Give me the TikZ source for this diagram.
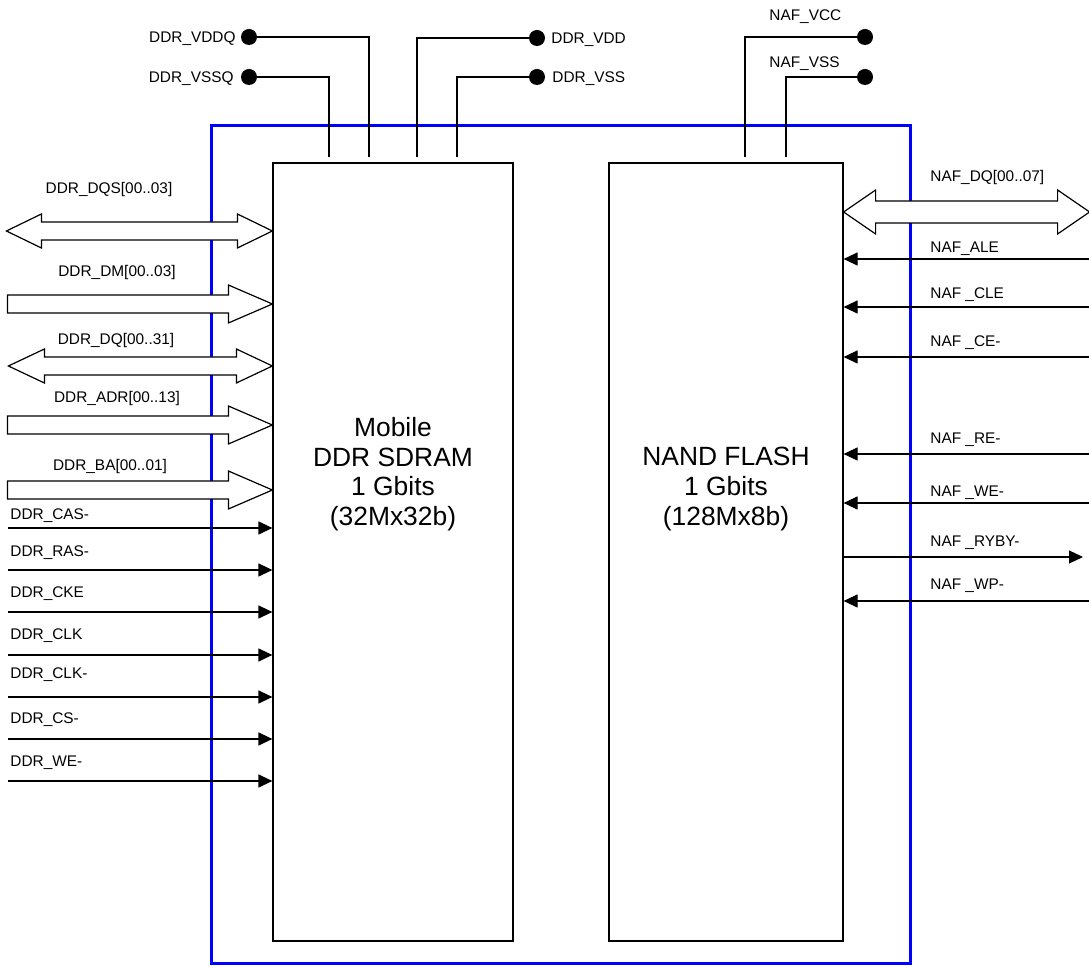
\documentclass[tikz,border=0pt]{standalone}
\usepackage{fontspec}
\setmainfont{Liberation Sans}
\usetikzlibrary{arrows.meta}

% wide bus arrow into a chip: tip, length
\newcommand{\busin}[2]{%
  \draw[bus, shift={(#1)}] (0,0) -- (-44,19) -- (-44,9) -- (-#2,9) -- (-#2,-9) -- (-44,-9) -- (-44,-19) -- cycle;}
% bidirectional bus: tip, length, head length, half head, half shaft
\newcommand{\busio}[6][]{%
  \draw[bus, shift={(#2)}, #1] (0,0) -- (-#4,#5) -- (-#4,#6) -- (-#3+#4,#6) -- (-#3+#4,#5) -- (-#3,0)
    -- (-#3+#4,-#5) -- (-#3+#4,-#6) -- (-#4,-#6) -- (-#4,-#5) -- cycle;}

\begin{document}
\begin{tikzpicture}[x=0.5pt, y=-0.5pt, >={Triangle[length=7pt,width=6.5pt]},
    chip/.style={draw, line width=0.6pt, minimum height=389pt, inner sep=0pt},
    chiptxt/.style={font={\fontsize{13.2}{14.8}\selectfont}, align=center, inner sep=0pt},
    lbl/.style={font={\fontsize{7.7}{9}\selectfont}, inner sep=0pt},
    sig/.style={line width=0.6pt},
    bus/.style={draw, fill=white, line width=0.6pt},
    pin/.style={circle, fill, inner sep=0pt, minimum size=8pt},
    frame/.style={draw=blue, line width=1.5pt}]
    \useasboundingbox (0,0) rectangle (1089,967);

    % Module frame
    \draw[frame] (211,126) rectangle (910,964);

    % The two chips
    \node[chip, minimum width=120pt] (ddr) at (393,552) {};
    \node[chip, minimum width=117pt] (naf) at (726,552) {};
    \node[chiptxt] (ddrname) at (393,474) {Mobile\\DDR SDRAM\\1 Gbits\\(32Mx32b)};
    \node[chiptxt] (nafname) at (726,489) {NAND FLASH\\1 Gbits\\(128Mx8b)};

    % Supply pins
    \node[pin] (vddq) at (249,37) {};
    \node[pin] (vssq) at (249,77) {};
    \node[pin] (vdd) at (537,38) {};
    \node[pin] (vss) at (537,77) {};
    \node[pin] (vcc) at (865,37) {};
    \node[pin] (nvss) at (865,77) {};
    \node[lbl, anchor=base east] (vddqlbl) at (236,42.5) {DDR\_VDDQ};
    \node[lbl, anchor=base east] (vssqlbl) at (234,82.5) {DDR\_VSSQ};
    \node[lbl, anchor=base west] (vddlbl) at (551,43.5) {DDR\_VDD};
    \node[lbl, anchor=base west] (vsslbl) at (552,82.5) {DDR\_VSS};
    \node[lbl, anchor=base west] (vcclbl) at (769,20.5) {NAF\_VCC};
    \node[lbl, anchor=base west] (nvsslbl) at (769,67.5) {NAF\_VSS};
    \coordinate (p1) at (329,157);
    \coordinate (p2) at (369,157);
    \coordinate (p3) at (417,157);
    \coordinate (p4) at (457,157);
    \coordinate (p5) at (745,157);
    \coordinate (p6) at (786,157);
    \draw[sig] (vssq) -| (p1);
    \draw[sig] (vddq) -| (p2);
    \draw[sig] (vdd) -| (p3);
    \draw[sig] (vss) -| (p4);
    \draw[sig] (vcc) -| (p5);
    \draw[sig] (nvss) -| (p6);

    % DDR buses
    \busio{ddr.west |- 0,231}{266}{35}{17}{9}
    \busin{ddr.west |- 0,304}{265}
    \busio{ddr.west |- 0,366}{264}{36}{17}{9}
    \busin{ddr.west |- 0,425}{265}
    \busin{ddr.west |- 0,490}{265}
    \node[lbl, anchor=base] (dqs) at (109,193.5) {DDR\_DQS[00..03]};
    \node[lbl, anchor=base] (dm) at (117,276.5) {DDR\_DM[00..03]};
    \node[lbl, anchor=base] (dq) at (116,344.5) {DDR\_DQ[00..31]};
    \node[lbl, anchor=base] (adr) at (117,402.5) {DDR\_ADR[00..13]};
    \node[lbl, anchor=base] (ba) at (110,470.5) {DDR\_BA[00..01]};

    % DDR control inputs
    \foreach \y/\ly/\txt [count=\i] in {528/519.5/DDR\_CAS-, 570/556.5/DDR\_RAS-, 612/597.5/DDR\_CKE,
        655/639.5/DDR\_CLK, 697/678.5/DDR\_CLK-, 739/723.5/DDR\_CS-, 781/766.5/DDR\_WE-}{
      \draw[sig, <-] (ddr.west |- 0,\y) -- ++(-264,0);
      \node[lbl, anchor=base west] (ddrc\i) at (10,\ly) {\txt};
    }

    % NAND data bus
    \busio[xscale=-1]{naf.east |- 0,212}{246}{32}{22}{11}
    \node[lbl, anchor=base west] (nafdq) at (930,181.5) {NAF\_DQ[00..07]};

    % NAND control lines
    \foreach \y/\ly/\txt [count=\i] in {259/252.5/NAF\_ALE, 307/298.5/NAF \_CLE, 357/346.5/NAF \_CE-,
        454/443.5/NAF \_RE-, 503/496.5/NAF \_WE-, 601/589.5/NAF \_WP-}{
      \draw[sig, <-] (naf.east |- 0,\y) -- ++(247,0);
      \node[lbl, anchor=base west] (nafc\i) at (930,\ly) {\txt};
    }
    \coordinate (ryby) at (1083,557);
    \draw[sig, ->] (naf.east |- ryby) -- (ryby);
    \node[lbl, anchor=base west] (rybylbl) at (930,546.5) {NAF \_RYBY-};
\end{tikzpicture}
\end{document}
